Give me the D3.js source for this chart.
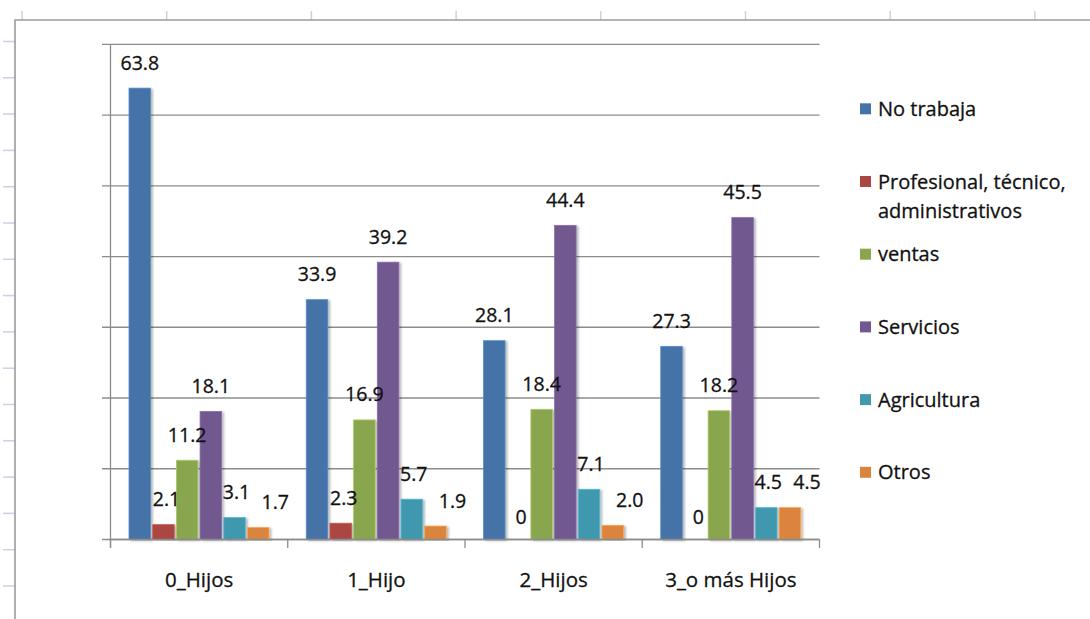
<!DOCTYPE html>
<html>
<head>
<meta charset="utf-8">
<script src="https://cdn.jsdelivr.net/npm/d3@7/dist/d3.min.js"></script>
<style>
  html, body { margin: 0; padding: 0; background: #fff; }
  svg { display: block; }
  text { font-family: "Open Sans", "DejaVu Sans", sans-serif; fill: #111; stroke: #111; stroke-width: 0.3px; }
</style>
</head>
<body>
<svg id="chart" width="1090" height="619"></svg>
<script>
// Categories (number of children) and occupation series
const categories = ["0_Hijos", "1_Hijo", "2_Hijos", "3_o más Hijos"];
const seriesNames = ["No trabaja", "Profesional, técnico, administrativos", "ventas", "Servicios", "Agricultura", "Otros"];
const legendLines = [["No trabaja"], ["Profesional, técnico,", "administrativos"], ["ventas"], ["Servicios"], ["Agricultura"], ["Otros"]];

// Percentages per series, one value per category
const noTrabaja   = [63.8, 33.9, 28.1, 27.3];
const profesional = [2.1, 2.3, 0, 0];
const ventas      = [11.2, 16.9, 18.4, 18.2];
const servicios   = [18.1, 39.2, 44.4, 45.5];
const agricultura = [3.1, 5.7, 7.1, 4.5];
const otros       = [1.7, 1.9, 2.0, 4.5];

const yTicks = [0, 10, 20, 30, 40, 50, 60, 70];

const seriesValues = [noTrabaja, profesional, ventas, servicios, agricultura, otros];
const colors = ["#4572a7", "#aa4643", "#89a54e", "#71588f", "#4198af", "#db843d"];

const svg = d3.select("#chart");

// Worksheet backdrop: column markers along the top, row markers on the left
const sheetLine = "#c9d1e3";
const colMarks = d3.range(8).map(i => 22 + i * 144.7);
svg.append("g").selectAll("line").data(colMarks).join("line")
  .attr("x1", d => d).attr("x2", d => d).attr("y1", 11).attr("y2", 20)
  .attr("stroke", sheetLine).attr("stroke-width", 1.5);
const rowMarks = d3.range(16).map(i => 41.5 + i * 36.3);
svg.append("g").selectAll("line").data(rowMarks).join("line")
  .attr("x1", 3).attr("x2", 15).attr("y1", d => d).attr("y2", d => d)
  .attr("stroke", sheetLine).attr("stroke-width", 1.5);

// Chart frame
svg.append("path")
  .attr("d", "M15,619 L15,20 L1090,20")
  .attr("fill", "none").attr("stroke", "#9c9c9c").attr("stroke-width", 1.6);

// Plot geometry
const plot = { left: 110.5, right: 819.5, top: 44.3, bottom: 539.5 };

const x0 = d3.scaleBand().domain(categories).range([plot.left, plot.right]).padding(0);
const x1 = d3.scaleBand().domain(d3.range(seriesNames.length))
  .range([18.5, 158.5]).paddingInner(0.09).paddingOuter(0);
const y = d3.scaleLinear().domain([0, 70]).range([plot.bottom, plot.top]);

// Shadow under bars
const defs = svg.append("defs");
const f = defs.append("filter").attr("id", "barShadow")
  .attr("x", "-30%").attr("y", "-10%").attr("width", "160%").attr("height", "120%");
f.append("feDropShadow").attr("dx", 2).attr("dy", 1).attr("stdDeviation", 1.2)
  .attr("flood-color", "#000").attr("flood-opacity", 0.28);

// Horizontal gridlines (with short ticks left of the value axis)
svg.append("g").selectAll("line").data(yTicks).join("line")
  .attr("x1", plot.left - 8.5).attr("x2", plot.right)
  .attr("y1", d => y(d)).attr("y2", d => y(d))
  .attr("stroke", "#8c8c8c").attr("stroke-width", 1.3);

// Value axis line
svg.append("line")
  .attr("x1", plot.left).attr("x2", plot.left)
  .attr("y1", plot.top).attr("y2", plot.bottom + 8.5)
  .attr("stroke", "#8c8c8c").attr("stroke-width", 1.3);

// Category axis with ticks at band boundaries
const boundaries = categories.map(c => x0(c)).concat([x0.range()[1]]);
svg.append("g").selectAll("line").data(boundaries).join("line")
  .attr("x1", d => d).attr("x2", d => d)
  .attr("y1", plot.bottom).attr("y2", plot.bottom + 8.5)
  .attr("stroke", "#8c8c8c").attr("stroke-width", 1.3);

// Bars
const barData = [];
categories.forEach((c, ci) => {
  seriesValues.forEach((vals, si) => {
    barData.push({ cat: c, s: si, v: vals[ci] });
  });
});

svg.append("g").selectAll("rect").data(barData.filter(d => d.v > 0)).join("rect")
  .attr("x", d => x0(d.cat) + x1(d.s))
  .attr("y", d => y(d.v))
  .attr("width", x1.bandwidth())
  .attr("height", d => y(0) - y(d.v))
  .attr("fill", d => colors[d.s])
  .attr("stroke", d => d3.color(colors[d.s]).brighter(0.6))
  .attr("stroke-width", 0.8)
  .attr("filter", "url(#barShadow)");

// Redraw the base line above the bars
svg.append("line")
  .attr("x1", plot.left).attr("x2", plot.right)
  .attr("y1", plot.bottom).attr("y2", plot.bottom)
  .attr("stroke", "#8c8c8c").attr("stroke-width", 1.3);

// Data labels above each bar
const labelNudge = [0, 3, 0, 0, 2, 17];
const fmt = v => v === 0 ? "0" : d3.format(".1f")(v);
svg.append("g").selectAll("text").data(barData).join("text")
  .attr("x", d => x0(d.cat) + x1(d.s) + x1.bandwidth() / 2 + labelNudge[d.s])
  .attr("y", d => y(d.v) - (d.v === 0 ? 16 : 18.5))
  .attr("text-anchor", "middle")
  .attr("font-size", 19.5)
  .text(d => fmt(d.v));

// Category labels
svg.append("g").selectAll("text").data(categories).join("text")
  .attr("x", d => x0(d) + x0.bandwidth() / 2)
  .attr("y", 586.5)
  .attr("text-anchor", "middle")
  .attr("font-size", 20.5)
  .text(d => d);

// Legend
const legend = svg.append("g");
const legendRow = i => 108.8 + i * 72.7;
legendLines.forEach((lines, i) => {
  const cy = legendRow(i);
  legend.append("rect")
    .attr("x", 860).attr("y", cy - 5.5)
    .attr("width", 11).attr("height", 11)
    .attr("fill", colors[i]);
  const t = legend.append("text")
    .attr("x", 878).attr("y", cy + 7)
    .attr("font-size", 20);
  lines.forEach((ln, k) => {
    t.append("tspan").attr("x", 878).attr("dy", k === 0 ? 0 : 29.5).text(ln);
  });
});
</script>
</body>
</html>
